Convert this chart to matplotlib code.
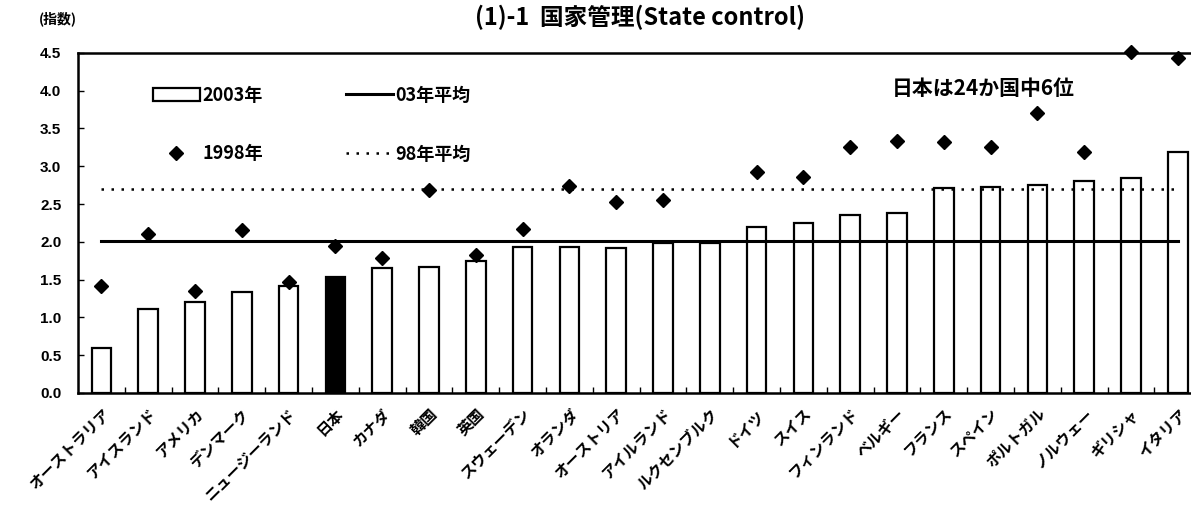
import matplotlib
matplotlib.use("Agg")
from matplotlib import pyplot as plt
from matplotlib.ticker import MultipleLocator, FormatStrFormatter
import numpy as np

plt.rcParams['font.family'] = ['Noto Sans CJK JP', 'DejaVu Sans']

countries = ["オーストラリア", "アイスランド", "アメリカ", "デンマーク", "ニュージーランド",
             "日本", "カナダ", "韓国", "英国", "スウェーデン", "オランダ", "オーストリア",
             "アイルランド", "ルクセンブルク", "ドイツ", "スイス", "フィンランド", "ベルギー",
             "フランス", "スペイン", "ポルトガル", "ノルウェー", "ギリシャ", "イタリア"]
score_2003 = [0.60, 1.11, 1.20, 1.33, 1.42, 1.53, 1.65, 1.67, 1.74, 1.93, 1.93, 1.92,
              1.98, 1.99, 2.20, 2.25, 2.36, 2.38, 2.71, 2.72, 2.75, 2.81, 2.84, 3.19]
# no 1998 figure for Luxembourg
score_1998 = [1.42, 2.11, 1.35, 2.16, 1.47, 1.94, 1.78, 2.69, 1.82, 2.17, 2.74, 2.53,
              2.56, np.nan, 2.93, 2.86, 3.26, 3.33, 3.32, 3.26, 3.70, 3.19, 4.51, 4.43]
avg_2003 = 2.01
avg_1998 = 2.70

fig = plt.figure(figsize=(11.91, 5.09), dpi=100)
ax = fig.add_axes([0.0655, 0.228, 0.943, 0.668])

x = np.arange(len(countries))
colors = ["black" if c == "日本" else "white" for c in countries]

bars = ax.bar(x, score_2003, width=0.42, color=colors, edgecolor="black",
              linewidth=1.6, label="2003年", zorder=2)
dia, = ax.plot(x, score_1998, "D", color="black", ms=7, linestyle="none",
               label="1998年", clip_on=False, zorder=4)
l03, = ax.plot([x[0], x[-1]], [avg_2003, avg_2003], color="black", lw=2.2,
               label="03年平均", zorder=3)
l98, = ax.plot([x[0], x[-1]], [avg_1998, avg_1998], color="black", lw=1.8,
               linestyle=(0, (1, 3)), label="98年平均", zorder=3)

ax.set_xlim(-0.5, len(countries) - 0.5)
ax.set_ylim(0, 4.5)

ax.yaxis.set_major_locator(MultipleLocator(0.5))
ax.yaxis.set_major_formatter(FormatStrFormatter("%.1f"))
ax.tick_params(axis="y", direction="in", length=4, width=1, pad=12,
               labelsize=11)
for t in ax.get_yticklabels():
    t.set_fontweight("bold")
    t.set_family("Liberation Sans")

ax.set_xticks(x)
ax.set_xticklabels(countries, rotation=45, ha="right", rotation_mode="anchor",
                   fontsize=11, fontweight="bold")
ax.tick_params(axis="x", which="major", length=0, pad=9)
ax.set_xticks(x[:-1] + 0.5, minor=True)
ax.tick_params(axis="x", which="minor", direction="in", length=4, width=1)

for side in ["left", "bottom", "top"]:
    ax.spines[side].set_linewidth(1.8)
ax.spines["right"].set_visible(False)

leg = ax.legend(handles=[bars, dia, l03, l98], ncol=2, frameon=False,
                loc="upper left", bbox_to_anchor=(0.0585, 0.93),
                prop={"weight": "bold", "size": 13},
                handlelength=2.6, handletextpad=0.15, labelspacing=2.2,
                columnspacing=4.6, borderpad=0)

ax.text(0.725, 0.895, "日本は24か国中6位", transform=ax.transAxes,
        fontsize=15, fontweight="bold", va="center", ha="left")

fig.text(0.033, 0.963, "(指数)", fontsize=10, fontweight="bold", va="center")
fig.text(0.537, 0.965, "(1)-1  国家管理(State control)", fontsize=17,
         fontweight="bold", va="center", ha="center")

fig.savefig("out.png", dpi=100)
